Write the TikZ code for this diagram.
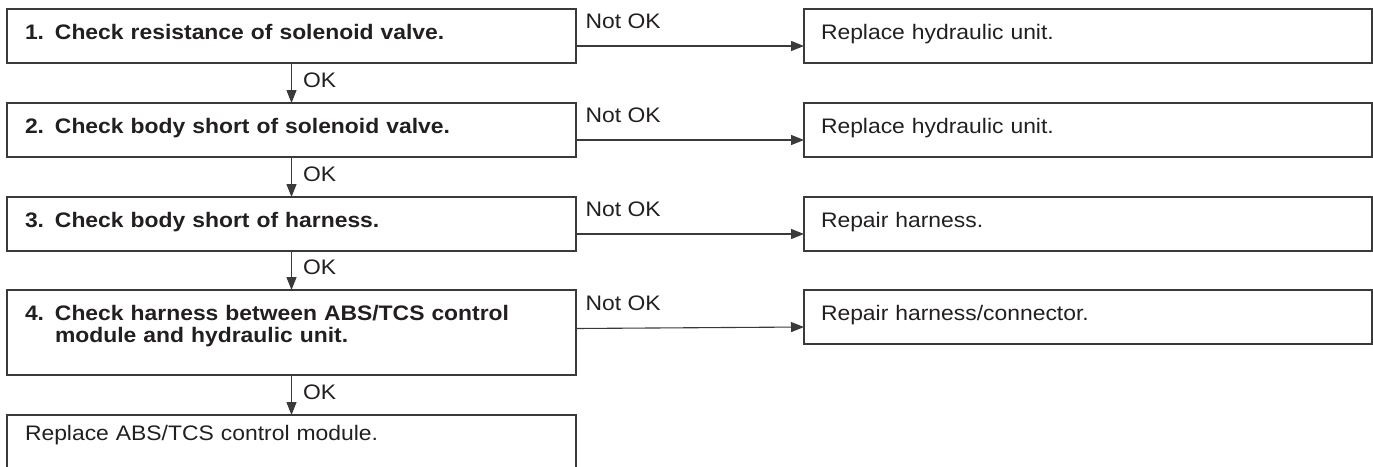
\documentclass[tikz,border=0pt]{standalone}
\usepackage{fontspec}
\setmainfont{Liberation Sans}[FakeStretch=1.09]
\usepackage{tikz}
\usetikzlibrary{arrows.meta,positioning}
\definecolor{boxink}{HTML}{3A3A3A}
\definecolor{textink}{HTML}{231F20}
\newcommand{\chartfont}{\fontsize{21pt}{22.5pt}\selectfont}
\newcommand{\stepno}[1]{\makebox[30pt][l]{#1.}}

\begin{document}
\begin{tikzpicture}[
    node distance=40pt and 228pt,
    checkbox/.style={draw=boxink, line width=1.5pt, outer sep=0pt,
                  text width=533pt, inner xsep=18pt, inner ysep=14pt,
                  text height=16pt, text depth=10pt, align=left,
                  text=textink, font=\chartfont\bfseries},
    fixbox/.style={draw=boxink, line width=1.5pt, outer sep=0pt,
                  text width=534pt, inner xsep=17pt, inner ysep=14pt,
                  text height=16pt, text depth=10pt, align=left,
                  text=textink, font=\chartfont},
    arrow/.style={-{Triangle[length=13pt,width=10pt]}, line width=1.1pt,
                  draw=boxink},
    okl/.style={font=\chartfont, text=textink, anchor=base west,
                  inner xsep=11pt, yshift=-4pt},
    notok/.style={font=\chartfont, text=textink, anchor=south west,
                  inner xsep=9pt, inner ysep=17pt},
]
\useasboundingbox (0,0) rectangle (1373pt,-466pt);

% Checks
\node[checkbox, anchor=north west] (s1) at (7pt,-9pt)
     {\stepno{1}Check resistance of solenoid valve.};
\node[checkbox, below=of s1] (s2)
     {\stepno{2}Check body short of solenoid valve.};
\node[checkbox, below=of s2] (s3)
     {\stepno{3}Check body short of harness.};
\node[checkbox, below=39pt of s3, text depth=41pt] (s4)
     {\stepno{4}\begin{tabular}[t]{@{}l@{}}Check harness between ABS/TCS control\\
      module and hydraulic unit.\end{tabular}};
\node[fixbox, below=of s4, text width=533pt, inner xsep=18pt,
      text height=11pt, text depth=40pt] (s5)
     {Replace ABS/TCS control module.};

% Remedies
\node[fixbox, right=of s1] (r1) {Replace hydraulic unit.};
\node[fixbox, right=of s2] (r2) {Replace hydraulic unit.};
\node[fixbox, right=of s3] (r3) {Repair harness.};
\node[fixbox, right=of s4.north east, anchor=north west] (r4)
     {Repair harness/connector.};

% Arrows
\draw[arrow] (s1) -- (s2) node[okl, midway] {OK};
\draw[arrow] (s2) -- (s3) node[okl, midway] {OK};
\draw[arrow] (s3) -- (s4) node[okl, midway] {OK};
\draw[arrow] (s4) -- (s5) node[okl, midway] {OK};
\draw[arrow] ([yshift=-10pt]s1.east) -- ([yshift=-10pt]r1.west)
     node[notok, at start] {Not OK};
\draw[arrow] ([yshift=-10pt]s2.east) -- ([yshift=-10pt]r2.west)
     node[notok, at start] {Not OK};
\draw[arrow] ([yshift=-10pt]s3.east) -- ([yshift=-10pt]r3.west)
     node[notok, at start] {Not OK};
\draw[arrow] ([yshift=4pt]s4.east) -- ([yshift=-10pt]r4.west)
     node[notok, at start] {Not OK};
\end{tikzpicture}
\end{document}
